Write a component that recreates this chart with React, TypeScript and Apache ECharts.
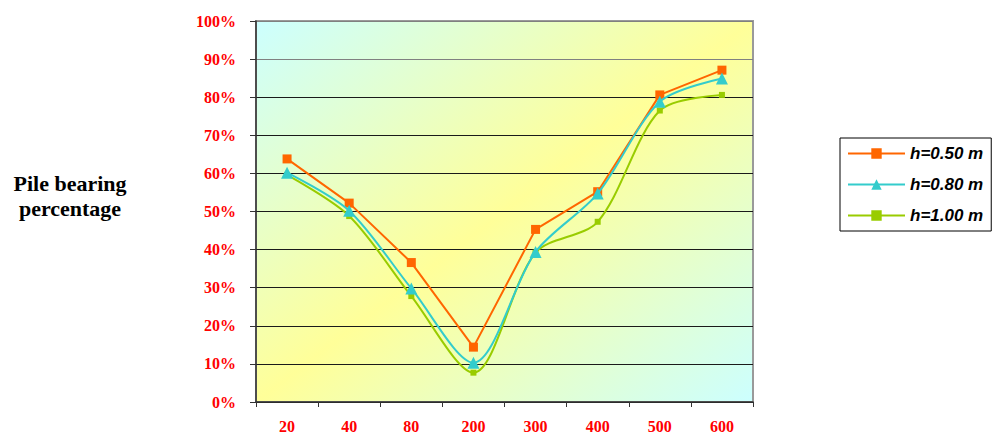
import React, { useEffect, useRef } from "react";
import * as echarts from "echarts";

const categories = ["20", "40", "80", "200", "300", "400", "500", "600"];
const yTicks = [0, 10, 20, 30, 40, 50, 60, 70, 80, 90, 100];
const h050 = [63.8, 52.2, 36.6, 14.4, 45.3, 55.2, 80.6, 87.1];
const h080 = [60.2, 50.2, 29.8, 10.3, 39.4, 54.7, 78.8, 84.9];
const h100 = [59.6, 48.8, 27.8, 7.7, 39.2, 47.3, 76.5, 80.6];
const seriesNames = ["h=0.50 m", "h=0.80 m", "h=1.00 m"];

export default function App() {
  const ref = useRef<HTMLDivElement>(null);
  useEffect(() => {
    if (!ref.current) return;
    const chart = echarts.init(ref.current, undefined, { renderer: "svg" });
    const splitColors = yTicks.map((v) => (v >= 90 ? "#808080" : "#1a1a1a"));
    const labelFont = {
      color: "#ff0000",
      fontFamily: "Liberation Serif",
      fontWeight: "bold",
      fontSize: 16,
    };
    chart.setOption({
      animation: false,
      backgroundColor: "#ffffff",
      grid: {
        left: 256,
        top: 21,
        right: 252,
        bottom: 34,
        show: true,
        borderColor: "#9a9a9a",
        borderWidth: 2,
        backgroundColor: new echarts.graphic.LinearGradient(0, 0, 1, 1, [
          { offset: 0, color: "#ccffff" },
          { offset: 0.5, color: "#ffff99" },
          { offset: 1, color: "#ccffff" },
        ]),
      },
      graphic: [
        {
          type: "text",
          x: 70,
          y: 171,
          style: {
            text: "Pile bearing\npercentage",
            fontFamily: "Liberation Serif",
            fontWeight: "bold",
            fontSize: 22,
            lineHeight: 25,
            fill: "#000",
            align: "center",
            verticalAlign: "top",
          },
        },
      ],
      legend: {
        orient: "vertical",
        left: 840,
        top: 138,
        width: 163,
        padding: [7, 8, 7, 7],
        itemGap: 14,
        itemWidth: 57,
        itemHeight: 13,
        borderColor: "#000",
        borderWidth: 1,
        data: seriesNames,
        textStyle: {
          fontFamily: "Liberation Sans",
          fontStyle: "italic",
          fontWeight: "bold",
          fontSize: 17,
          color: "#000",
        },
      },
      xAxis: {
        type: "category",
        data: categories,
        boundaryGap: true,
        axisLine: { lineStyle: { color: "#333", width: 1.5 } },
        axisTick: { show: true, length: 5, lineStyle: { color: "#333" } },
        axisLabel: { ...labelFont, margin: 16 },
        splitLine: { show: false },
      },
      yAxis: {
        type: "value",
        min: 0,
        max: 100,
        interval: 10,
        axisLine: { show: true, lineStyle: { color: "#333", width: 1.5 } },
        axisTick: { show: true, length: 6, lineStyle: { color: "#333" } },
        axisLabel: { ...labelFont, margin: 20, formatter: "{value}%" },
        splitLine: { show: true, lineStyle: { color: splitColors, width: 1 } },
      },
      series: [
        {
          name: seriesNames[0],
          type: "line",
          data: h050,
          symbol: "rect",
          symbolSize: 9,
          lineStyle: { color: "#ff6600", width: 2 },
          itemStyle: { color: "#ff6600" },
          z: 3,
        },
        {
          name: seriesNames[1],
          type: "line",
          data: h080,
          smooth: 0.3,
          symbol: "triangle",
          symbolSize: 12,
          lineStyle: { color: "#33cccc", width: 2 },
          itemStyle: { color: "#33cccc" },
          z: 4,
        },
        {
          name: seriesNames[2],
          type: "line",
          data: h100,
          smooth: 0.3,
          symbol: "rect",
          symbolSize: 6,
          lineStyle: { color: "#99cc00", width: 2 },
          itemStyle: { color: "#99cc00" },
          z: 2,
        },
      ],
    });
    return () => chart.dispose();
  }, []);
  return (
    <div
      ref={ref}
      style={{ position: "fixed", left: 0, top: 0, width: 1005, height: 436 }}
    />
  );
}
